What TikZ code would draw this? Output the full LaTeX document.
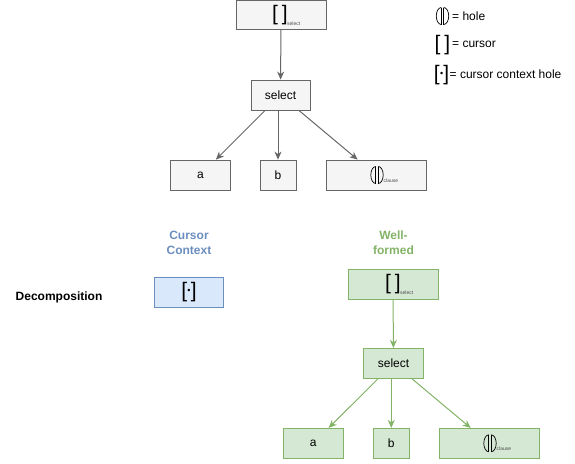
\documentclass[tikz,border=0pt]{standalone}
\usepackage{fontspec}
\setmainfont{Liberation Sans}
\usetikzlibrary{arrows.meta}
\definecolor{gstroke}{HTML}{666666}
\definecolor{gfill}{HTML}{F5F5F5}
\definecolor{bstroke}{HTML}{6C8EBF}
\definecolor{bfill}{HTML}{DAE8FC}
\definecolor{grstroke}{HTML}{82B366}
\definecolor{grfill}{HTML}{D5E8D4}
\newcommand{\brk}{{\fontsize{21}{21}\selectfont[\kern4pt]}}
\newcommand{\cbrk}{{\fontsize{21}{21}\selectfont[\kern0.3pt\raisebox{4pt}{\fontsize{9}{9}\selectfont\textbullet}\kern0.3pt]}}
\newcommand{\subtxt}[1]{{\fontsize{5}{6}\selectfont\color{black!70}#1}}
\tikzset{
  holeglyph/.pic={
    \draw[line width=0.7pt] (-1.2,-8.5) -- (-1.2,8.5);
    \draw[line width=0.7pt] (-1.2,-8.5) arc[start angle=-90, end angle=-270, x radius=5, y radius=8.5];
    \draw[line width=0.7pt] (1.2,-8.5) -- (1.2,8.5);
    \draw[line width=0.7pt] (1.2,-8.5) arc[start angle=-90, end angle=90, x radius=5, y radius=8.5];
  },
  nbox/.style={draw=gstroke, fill=gfill, line width=0.8pt, minimum height=30pt, inner sep=0pt, font=\fontsize{12}{14}\selectfont},
  bbox/.style={nbox, draw=bstroke, fill=bfill},
  grbox/.style={nbox, draw=grstroke, fill=grfill},
  garrow/.style={draw=gstroke, line width=1pt, -{Stealth[length=8pt,width=7pt,inset=2.5pt]}},
  grarrow/.style={garrow, draw=grstroke, color=grstroke},
  lbl/.style={inner sep=0pt, font=\fontsize{12}{14}\selectfont},
  head/.style={align=center, inner sep=0pt, font=\bfseries\fontsize{12}{15}\selectfont},
}
\begin{document}
\begin{tikzpicture}[x=1pt,y=-1pt]
\useasboundingbox (0,0) rectangle (575,463);
% top tree
\node[nbox, minimum width=90pt, minimum height=29pt] (t0) at (281,15) {};
\node[inner sep=0pt] (t0b) at (280,15) {\brk};
\node[inner sep=0pt, anchor=base west] (t0s) at (287,25) {\subtxt{select}};
\node[nbox, minimum width=59pt] (t1) at (280.5,95) {select};
\node[nbox, minimum width=60pt] (ta) at (200.5,175) {a};
\node[nbox, minimum width=36pt] (tb) at (278,175) {b};
\node[nbox, minimum width=100pt] (tc) at (376,175) {};
\pic at (377,175) {holeglyph};
\node[inner sep=0pt, anchor=base west] (tcs) at (383.5,182) {\subtxt{clause}};
\draw[garrow] (t0) -- (t1);
\draw[garrow] (t1) -- (ta);
\draw[garrow] (t1.south -| tb) -- (tb);
\draw[garrow] (t1) -- (tc);
% legend
\pic at (442.5,16) {holeglyph};
\node[lbl, anchor=west] (l1) at (452,16) {= hole};
\node[inner sep=0pt, anchor=east] (l2b) at (450.5,45) {\brk};
\node[lbl, anchor=west] (l2) at (452,44) {= cursor};
\node[inner sep=0pt, anchor=east] (l3b) at (449.5,75) {\cbrk};
\node[lbl, anchor=west] (l3) at (449.5,74) {= cursor context hole};
% headings
\node[head, text=bstroke] (hc) at (189,243) {Cursor\\Context};
\node[head, text=grstroke] (hw) at (393.5,243) {Well-\\formed};
\node[lbl, font=\bfseries\fontsize{12}{14}\selectfont] (dec) at (59,297) {Decomposition};
% cursor context
\node[bbox, minimum width=69pt] (cc) at (188.5,292) {};
\node[inner sep=0pt] (ccb) at (189,292) {\cbrk};
% bottom tree
\node[grbox, minimum width=90pt] (w0) at (393,284) {};
\node[inner sep=0pt] (w0b) at (393,284) {\brk};
\node[inner sep=0pt, anchor=base west] (w0s) at (400,294) {\subtxt{select}};
\node[grbox, minimum width=60pt] (w1) at (393.5,363.3) {select};
\node[grbox, minimum width=60pt] (wa) at (313.3,443.3) {a};
\node[grbox, minimum width=36pt] (wb) at (391.3,443.3) {b};
\node[grbox, minimum width=100pt] (wc) at (489,443.3) {};
\pic at (490,443.3) {holeglyph};
\node[inner sep=0pt, anchor=base west] (wcs) at (496.5,450.3) {\subtxt{clause}};
\draw[grarrow] (w0) -- (w1);
\draw[grarrow] (w1) -- (wa);
\draw[grarrow] (w1.south -| wb) -- (wb);
\draw[grarrow] (w1) -- (wc);
\end{tikzpicture}
\end{document}
